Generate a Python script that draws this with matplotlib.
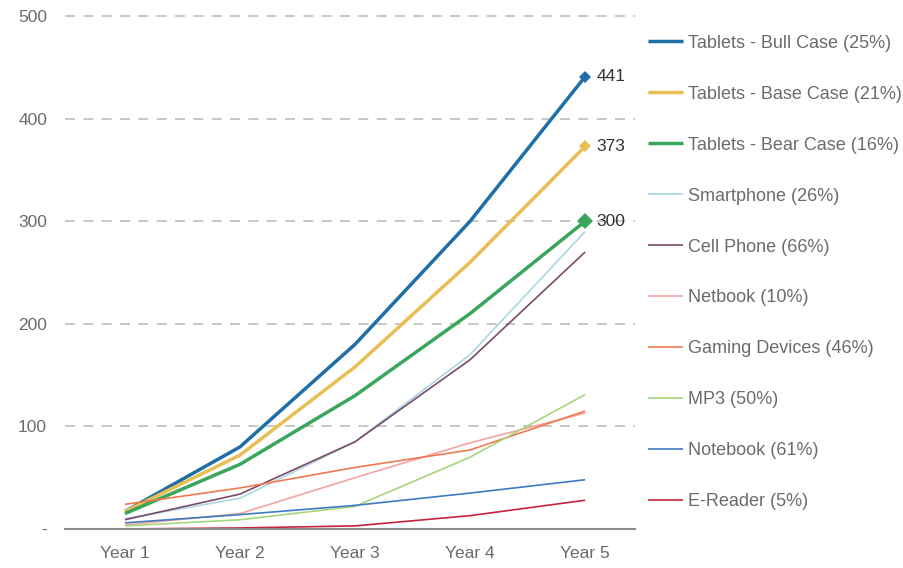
import numpy as np
import matplotlib.pyplot as plt

# 年份与各系列数据
years = ['Year 1', 'Year 2', 'Year 3', 'Year 4', 'Year 5']

tablets_bull = [17, 80, 180, 300, 441]
tablets_base = [17, 72, 158, 260, 373]
tablets_bear = [15, 63, 130, 210, 300]
smartphone = [10, 30, 85, 170, 290]
cell_phone = [9, 34, 85, 165, 270]
netbook = [4, 15, 50, 84, 113]
gaming = [24, 40, 60, 77, 115]
mp3 = [3, 9, 22, 70, 131]
notebook = [6, 14, 23, 35, 48]
ereader = [0, 1, 3, 13, 28]

labels = ['Tablets - Bull Case (25%)', 'Tablets - Base Case (21%)',
          'Tablets - Bear Case (16%)', 'Smartphone (26%)', 'Cell Phone (66%)',
          'Netbook (10%)', 'Gaming Devices (46%)', 'MP3 (50%)',
          'Notebook (61%)', 'E-Reader (5%)']

ytick_vals = [0, 100, 200, 300, 400, 500]
ytick_labels = ['-', '100', '200', '300', '400', '500']

plt.rcParams['font.family'] = ['Liberation Sans', 'DejaVu Sans']

fig = plt.figure(figsize=(9.04, 5.68), dpi=100)
ax = fig.add_axes([0.072, 0.0687, 0.63, 0.912])

x = np.arange(1, len(years) + 1)

# 系列样式：颜色与线宽
series = [
    (tablets_bull, '#1f6ea6', 2.5),
    (tablets_base, '#e9bf55', 2.5),
    (tablets_bear, '#3aa65c', 2.5),
    (smartphone, '#a9d7e6', 1.2),
    (cell_phone, '#7b4a68', 1.2),
    (netbook, '#f4a3a3', 1.2),
    (gaming, '#ef7a4f', 1.2),
    (mp3, '#a6d67a', 1.2),
    (notebook, '#3d7cc2', 1.2),
    (ereader, '#c8213d', 1.2),
]

handles = []
for (vals, color, lw), lab in zip(series, labels):
    h, = ax.plot(x, vals, color=color, lw=lw, label=lab, solid_capstyle='butt')
    handles.append(h)

# 平板三条线末端的菱形标记与数值
for vals, color, ms in [(tablets_bull, '#1f6ea6', 6), (tablets_base, '#e9bf55', 6),
                        (tablets_bear, '#3aa65c', 8)]:
    ax.plot(x[-1], vals[-1], marker='D', color=color, ms=ms, markeredgewidth=0)
    ax.annotate(str(vals[-1]), (x[-1], vals[-1]), xytext=(8, 0),
                textcoords='offset points', va='center', ha='left',
                fontsize=12.5, color='#333333')

ax.set_xlim(0.48, 5.43)
ax.set_ylim(0, 505)
ax.set_xticks(x)
ax.set_xticklabels(years)
ax.set_yticks(ytick_vals)
ax.set_yticklabels(ytick_labels)
ax.tick_params(axis='both', length=0, colors='#6b6b6b', labelsize=12.5)
ax.tick_params(axis='x', pad=12)
ax.tick_params(axis='y', pad=13)

for v in ytick_vals[1:]:
    ax.axhline(v, color='#bdbdbd', lw=1.2, ls=(0, (6, 5)), zorder=0)

for s in ['top', 'right', 'left']:
    ax.spines[s].set_visible(False)
ax.spines['bottom'].set_color('#8a8a8a')
ax.spines['bottom'].set_linewidth(1.5)

leg = ax.legend(handles=handles, loc='upper left', bbox_to_anchor=(1.01, 0.968),
                frameon=False, fontsize=13, labelspacing=1.88,
                handlelength=1.95, handletextpad=0.28, borderaxespad=0)
for t in leg.get_texts():
    t.set_color('#6b6b6b')

fig.savefig('out.png', dpi=100)
